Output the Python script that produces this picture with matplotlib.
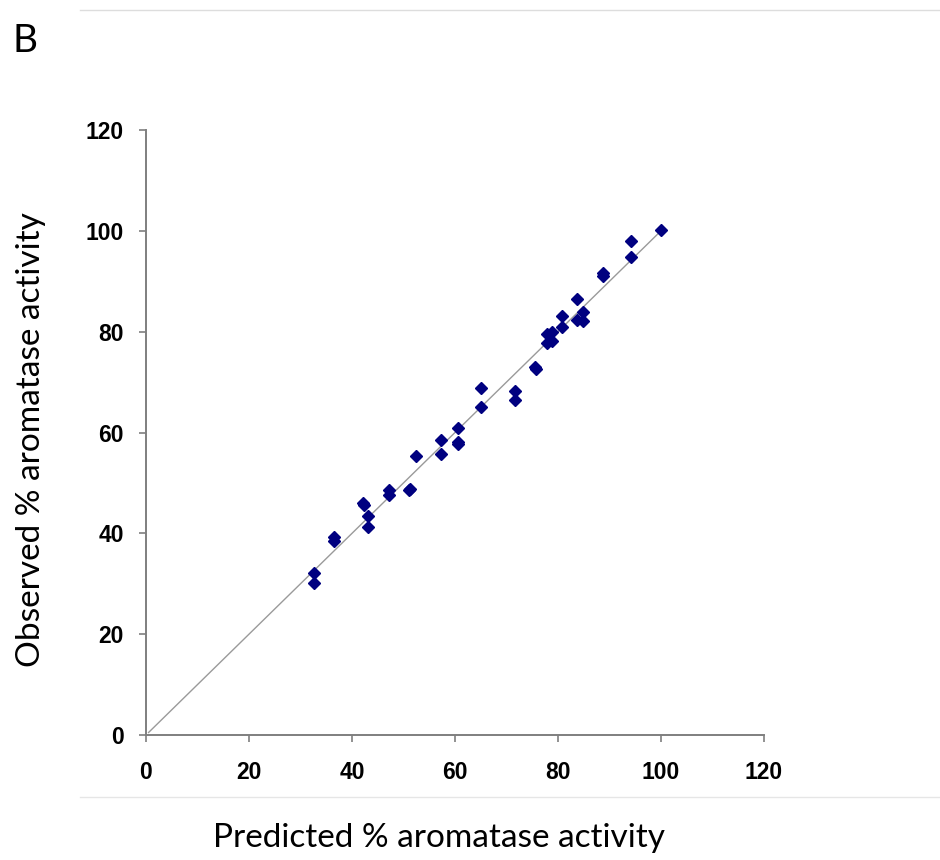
import matplotlib
matplotlib.use("Agg")
import matplotlib.pyplot as plt
from matplotlib.lines import Line2D

# Predicted vs observed % aromatase activity
predicted = [32.6, 32.6, 36.5, 36.5, 42.2, 42.4, 43.2, 43.2, 47.1, 47.1,
             51.1, 51.3, 52.4, 57.2, 57.2, 60.6, 60.6, 60.6, 65.1, 65.1,
             71.7, 71.7, 75.6, 75.8, 77.8, 78.8, 77.8, 78.8, 80.8, 80.8,
             83.7, 83.7, 84.8, 84.8, 88.8, 88.8, 94.2, 94.2, 100.0]
observed = [32.2, 30.2, 39.2, 38.4, 46.1, 45.6, 43.4, 41.2, 48.5, 47.6,
            48.5, 48.8, 55.4, 58.5, 55.7, 60.9, 58.2, 57.8, 68.9, 65.1,
            68.3, 66.5, 72.9, 72.5, 79.6, 80.0, 77.7, 78.2, 83.2, 81.0,
            86.5, 82.3, 83.9, 82.1, 91.6, 91.1, 97.9, 94.8, 100.2]
identity = [0.5, 100.0]
ticks = [0, 20, 40, 60, 80, 100, 120]

W, H = 940, 860
fig = plt.figure(figsize=(W / 100, H / 100), dpi=100)
fig.patch.set_facecolor("white")

ax = fig.add_axes([146 / W, 1 - 735 / H, (764 - 146) / W, (735 - 130) / H])
ax.plot(identity, identity, color="#9a9a9a", lw=1.0, zorder=1)
ax.plot(predicted, observed, linestyle="none", marker="D", markersize=6.5,
        color="#000080", markeredgecolor="#000080", zorder=2)

ax.set_xlim(0, 120)
ax.set_ylim(0, 120)
ax.set_xticks(ticks)
ax.set_yticks(ticks)
ax.set_xticklabels([str(t) for t in ticks])
ax.set_yticklabels([str(t) for t in ticks])

for side in ("top", "right"):
    ax.spines[side].set_visible(False)
for side in ("left", "bottom"):
    ax.spines[side].set_color("#7f7f7f")
    ax.spines[side].set_linewidth(1.4)

ax.tick_params(axis="both", direction="out", length=5, width=1.2, color="#7f7f7f")
ax.tick_params(axis="x", pad=14)
ax.tick_params(axis="y", pad=11)
for lab in ax.get_xticklabels() + ax.get_yticklabels():
    lab.set_fontfamily("Liberation Sans")
    lab.set_fontweight("bold")
    lab.set_fontsize(16.5)
    lab.set_color("black")

fig.text(31 / W, 1 - 440 / H, "Observed % aromatase activity", rotation=90,
         ha="center", va="center", fontsize=24, family="Lato", color="black")
fig.text(439 / W, 1 - 838 / H, "Predicted % aromatase activity",
         ha="center", va="center", fontsize=24, family="Lato", color="black")
fig.text(12 / W, 1 - 41 / H, "B", ha="left", va="center",
         fontsize=28, family="Lato", color="black")

# thin separator rules above and below the panel
fig.add_artist(Line2D([80 / W, 1.0], [1 - 9.5 / H, 1 - 9.5 / H], color="#dddddd", lw=1.0))
fig.add_artist(Line2D([80 / W, 1.0], [1 - 797 / H, 1 - 797 / H], color="#e6e6e6", lw=1.0))

fig.savefig("out.png", dpi=100, facecolor="white")
